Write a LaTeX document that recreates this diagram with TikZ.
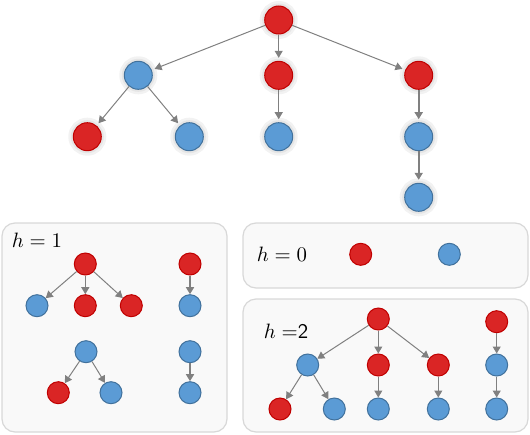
\documentclass[tikz,border=0pt]{standalone}
\usepackage{amsmath,amssymb}
\usepackage{tikz}
\usetikzlibrary{positioning,arrows.meta}
\usepackage{xcolor}

\definecolor{nodered}{RGB}{218,37,37}
\definecolor{nodereddark}{RGB}{192,0,0}
\definecolor{nodeblue}{RGB}{91,155,213}
\definecolor{nodebluedark}{RGB}{65,113,156}
\definecolor{panelfill}{RGB}{249,249,249}
\definecolor{paneldraw}{RGB}{216,216,216}

\tikzset{
	rednode/.style={circle,draw=nodereddark,fill=nodered,line width=0.5pt,inner sep=0pt},
	bluenode/.style={circle,draw=nodebluedark,fill=nodeblue,line width=0.5pt,inner sep=0pt},
	big/.style={minimum size=14pt,
		preaction={draw=black!5,line width=5pt},
		preaction={draw=black!10,line width=2.5pt}},
	small/.style={minimum size=11pt},
	arr/.style={draw=black!50,line width=0.5pt,-{Triangle[length=3.5pt,width=4pt]}},
	panel/.style={draw=paneldraw,fill=panelfill,line width=0.6pt,rounded corners=6.5pt},
	hlabel/.style={inner sep=0pt,scale=1.04}
}

\begin{document}
\begin{tikzpicture}[x=0.5pt,y=-0.5pt]
		
		\useasboundingbox (0,0) rectangle (530,434);
		
		% main tree
		\node[rednode,big] (r) at (278.7,20) {};
		\node[bluenode,big] (a) at (138.3,75.3) {};
		\node[rednode,big] (b) at (278.7,75.3) {};
		\node[rednode,big] (c) at (418.7,75.3) {};
		\node[rednode,big] (a1) at (87.3,136.7) {};
		\node[bluenode,big] (a2) at (189.3,136.7) {};
		\node[bluenode,big] (b1) at (278.7,136.7) {};
		\node[bluenode,big] (c1) at (418.7,136.7) {};
		\node[bluenode,big] (c2) at (418.7,197.3) {};
		
		\draw[arr,shorten >=1.5pt] (r)--(a);
		\draw[arr,shorten >=1.5pt] (r)--(b);
		\draw[arr,shorten >=1.5pt] (r)--(c);
		\draw[arr,shorten >=1.5pt] (a)--(a1);
		\draw[arr,shorten >=1.5pt] (a)--(a2);
		\draw[arr,shorten >=1.5pt] (b)--(b1);
		\draw[arr,line width=0.9pt,shorten >=1.5pt] (c)--(c1);
		\draw[arr,line width=0.9pt,shorten >=1.5pt] (c1)--(c2);
		
		% panels
		\draw[panel] (2,223) rectangle (227,432);
		\draw[panel] (243,223) rectangle (528,288);
		\draw[panel] (243,299) rectangle (528,432);
		
		% h = 1
		\node[hlabel] (hone) at (37,240.7) {$h=1$};
		
		\node[rednode,small] (p) at (85.3,264) {};
		\node[bluenode,small] (p1) at (37,305.7) {};
		\node[rednode,small] (p2) at (85.3,305.7) {};
		\node[rednode,small] (p3) at (131.3,305.7) {};
		\draw[arr] (p)--(p1);
		\draw[arr] (p)--(p2);
		\draw[arr] (p)--(p3);
		
		\node[rednode,small] (q) at (190,264) {};
		\node[bluenode,small] (q1) at (190,305.7) {};
		\draw[arr,line width=0.8pt] (q)--(q1);
		
		\node[bluenode,small] (s) at (86,351.7) {};
		\node[rednode,small] (s1) at (58.3,392.7) {};
		\node[bluenode,small] (s2) at (111,392.7) {};
		\draw[arr] (s)--(s1);
		\draw[arr] (s)--(s2);
		
		\node[bluenode,small] (t) at (190,351.7) {};
		\node[bluenode,small] (t1) at (190,392.7) {};
		\draw[arr,line width=0.8pt] (t)--(t1);
		
		% h = 0
		\node[hlabel] (hzero) at (282,254.3) {$h=0$};
		\node[rednode,small] (u) at (360.7,254.3) {};
		\node[bluenode,small] (v) at (449.3,254.3) {};
		
		% h = 2
		\node[hlabel] (htwo) at (286,331) {$h\mkern5mu\mathord{=}$\textsf{2}};
		
		\node[rednode,small] (w) at (378.3,319) {};
		\node[bluenode,small] (w1) at (307.7,365) {};
		\node[rednode,small] (w2) at (378.3,365) {};
		\node[rednode,small] (w3) at (438.3,365) {};
		\node[rednode,small] (w11) at (280,409) {};
		\node[bluenode,small] (w12) at (334.3,409) {};
		\node[bluenode,small] (w21) at (378.3,409) {};
		\node[bluenode,small] (w31) at (438.3,409) {};
		\draw[arr] (w)--(w1);
		\draw[arr] (w)--(w2);
		\draw[arr] (w)--(w3);
		\draw[arr] (w1)--(w11);
		\draw[arr] (w1)--(w12);
		\draw[arr] (w2)--(w21);
		\draw[arr] (w3)--(w31);
		
		\node[rednode,small] (z) at (496.7,321.7) {};
		\node[bluenode,small] (z1) at (496.7,365) {};
		\node[bluenode,small] (z2) at (496.7,409) {};
		\draw[arr] (z)--(z1);
		\draw[arr] (z1)--(z2);
		
	\end{tikzpicture}
\end{document}
